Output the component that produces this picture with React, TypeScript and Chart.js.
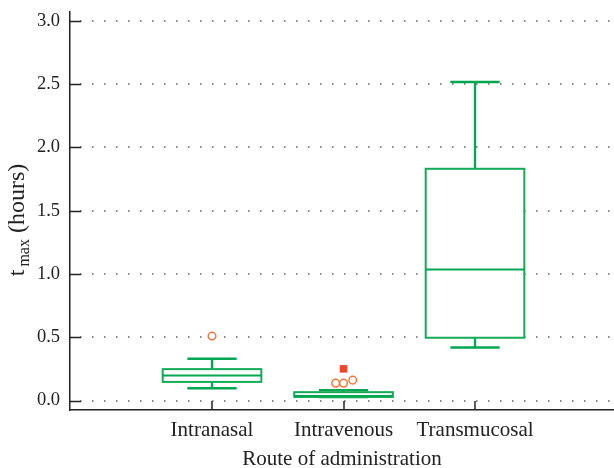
import React, { useEffect, useRef } from 'react';
import { Chart, registerables } from 'chart.js';

Chart.register(...registerables);

// ---- data ----
const categories = ['Intranasal', 'Intravenous', 'Transmucosal'];
const whiskerLow = [0.097, 0.026, 0.419];
const quartile1 = [0.147, 0.028, 0.496];
const medians = [0.197, 0.035, 1.036];
const quartile3 = [0.248, 0.066, 1.831];
const whiskerHigh = [0.33, 0.082, 2.517];
const outlierX = [0, 0.94, 1.0, 1.07];
const outlierY = [0.509, 0.137, 0.137, 0.161];
const extremeX = [1.0];
const extremeY = [0.25];
const yTicks = [0, 0.5, 1, 1.5, 2, 2.5, 3];
const xTicks = [0, 1, 2];

const SERIF = "'Liberation Serif', 'DejaVu Serif', serif";
const GREEN = '#00A650';
const AXIS = '#222222';

const boxPlugin = {
  id: 'boxes',
  beforeDatasetsDraw(chart: any) {
    const { ctx, chartArea, scales } = chart;
    const xs = scales.x;
    const ys = scales.y;
    ctx.save();
    // dotted horizontal grid
    ctx.strokeStyle = '#6a6a6a';
    ctx.lineWidth = 1.6;
    ctx.setLineDash([1.6, 10.4]);
    yTicks.forEach((v) => {
      const y = Math.round(ys.getPixelForValue(v));
      ctx.beginPath();
      ctx.moveTo(chartArea.left + 10, y);
      ctx.lineTo(chartArea.right, y);
      ctx.stroke();
    });
    ctx.setLineDash([]);
    // inward ticks
    ctx.strokeStyle = AXIS;
    ctx.lineWidth = 1.5;
    yTicks.forEach((v) => {
      const y = Math.round(ys.getPixelForValue(v)) + 0.5;
      ctx.beginPath();
      ctx.moveTo(chartArea.left, y);
      ctx.lineTo(chartArea.left + 11, y);
      ctx.stroke();
    });
    xTicks.forEach((v) => {
      const x = Math.round(xs.getPixelForValue(v));
      ctx.beginPath();
      ctx.moveTo(x, chartArea.bottom);
      ctx.lineTo(x, chartArea.bottom - 9);
      ctx.stroke();
    });
    // boxes
    const boxHalf = 0.375;
    const capHalf = 0.1875;
    categories.forEach((_, i) => {
      const xc = xs.getPixelForValue(i);
      const xl = xs.getPixelForValue(i - boxHalf);
      const xr = xs.getPixelForValue(i + boxHalf);
      const cl = xs.getPixelForValue(i - capHalf);
      const cr = xs.getPixelForValue(i + capHalf);
      const yq1 = ys.getPixelForValue(quartile1[i]);
      const yq3 = ys.getPixelForValue(quartile3[i]);
      const ym = ys.getPixelForValue(medians[i]);
      const ylo = ys.getPixelForValue(whiskerLow[i]);
      const yhi = ys.getPixelForValue(whiskerHigh[i]);
      ctx.strokeStyle = GREEN;
      ctx.lineWidth = 2.3;
      // whiskers
      ctx.beginPath();
      ctx.moveTo(xc, yq3);
      ctx.lineTo(xc, yhi);
      ctx.moveTo(cl, yhi);
      ctx.lineTo(cr, yhi);
      ctx.moveTo(xc, yq1);
      ctx.lineTo(xc, ylo);
      ctx.moveTo(cl, ylo);
      ctx.lineTo(cr, ylo);
      ctx.stroke();
      // box
      ctx.fillStyle = '#ffffff';
      ctx.fillRect(xl, yq3, xr - xl, yq1 - yq3);
      ctx.lineWidth = 2;
      ctx.strokeStyle = '#14AA58';
      ctx.strokeRect(xl, yq3, xr - xl, yq1 - yq3);
      ctx.strokeStyle = GREEN;
      ctx.beginPath();
      ctx.moveTo(xl, ym);
      ctx.lineTo(xr, ym);
      ctx.stroke();
    });
    ctx.restore();
  },
  afterDraw(chart: any) {
    const { ctx } = chart;
    ctx.save();
    ctx.translate(23.5, 220);
    ctx.rotate(-Math.PI / 2);
    ctx.fillStyle = AXIS;
    ctx.textBaseline = 'alphabetic';
    ctx.textAlign = 'left';
    const big = `24px ${SERIF}`;
    const small = `16px ${SERIF}`;
    ctx.font = big;
    const wT = ctx.measureText('t').width;
    const wH = ctx.measureText(' (hours)').width;
    ctx.font = small;
    const wM = ctx.measureText('max').width;
    const gap = 3;
    const total = wT + gap + wM + wH;
    let x = -total / 2;
    ctx.font = big;
    ctx.fillText('t', x, 0);
    x += wT + gap;
    ctx.font = small;
    ctx.fillText('max', x, 5);
    x += wM;
    ctx.font = big;
    ctx.fillText(' (hours)', x, 0);
    ctx.restore();
  },
};

export default function App() {
  const ref = useRef<HTMLCanvasElement>(null);
  useEffect(() => {
    if (!ref.current) return;
    const chart = new Chart(ref.current, {
      type: 'scatter',
      data: {
        datasets: [
          {
            data: outlierX.map((x, i) => ({ x, y: outlierY[i] })),
            pointStyle: 'circle',
            pointRadius: 3.8,
            pointBorderWidth: 1.5,
            pointBorderColor: '#F2763A',
            pointBackgroundColor: '#ffffff',
          },
          {
            data: extremeX.map((x, i) => ({ x, y: extremeY[i] })),
            pointStyle: 'rect',
            pointRadius: 5.3,
            pointBorderWidth: 0,
            pointBackgroundColor: '#EE4428',
            pointBorderColor: '#EE4428',
          },
        ],
      },
      options: {
        responsive: false,
        animation: false,
        layout: { autoPadding: false, padding: { top: 12, right: 0, left: 0, bottom: 0 } },
        plugins: { legend: { display: false }, tooltip: { enabled: false } },
        scales: {
          x: {
            type: 'linear',
            min: -1.08,
            max: 3.057,
            afterBuildTicks: (s: any) => {
              s.ticks = xTicks.map((v) => ({ value: v }));
            },
            afterFit: (s: any) => {
              s.height = 58;
              s.paddingLeft = 0;
              s.paddingRight = 0;
            },
            grid: { display: false, drawTicks: false },
            border: { display: true, color: AXIS, width: 1.5 },
            ticks: {
              padding: 8,
              color: AXIS,
              font: { family: SERIF, size: 21 },
              callback: (v: any) => categories[v as number] ?? '',
            },
            title: {
              display: true,
              text: 'Route of administration',
              color: AXIS,
              font: { family: SERIF, size: 21, lineHeight: 1 },
              padding: { top: 0, bottom: -2 },
            },
          },
          y: {
            type: 'linear',
            min: -0.075,
            max: 3.07,
            afterBuildTicks: (s: any) => {
              s.ticks = yTicks.map((v) => ({ value: v }));
            },
            afterFit: (s: any) => {
              s.width = 70;
              s.paddingTop = 0;
              s.paddingBottom = 0;
            },
            grid: { display: false, drawTicks: false },
            border: { display: true, color: AXIS, width: 1.5 },
            ticks: {
              padding: 10,
              color: AXIS,
              font: { family: SERIF, size: 18.5 },
              callback: (v: any) => Number(v).toFixed(1),
            },
          },
        },
      },
      plugins: [boxPlugin],
    });
    return () => chart.destroy();
  }, []);
  return (
    <div style={{ position: 'absolute', left: 0, top: 0, width: 614, height: 468, background: '#fff' }}>
      <canvas ref={ref} width={614} height={468} style={{ display: 'block' }} />
    </div>
  );
}
